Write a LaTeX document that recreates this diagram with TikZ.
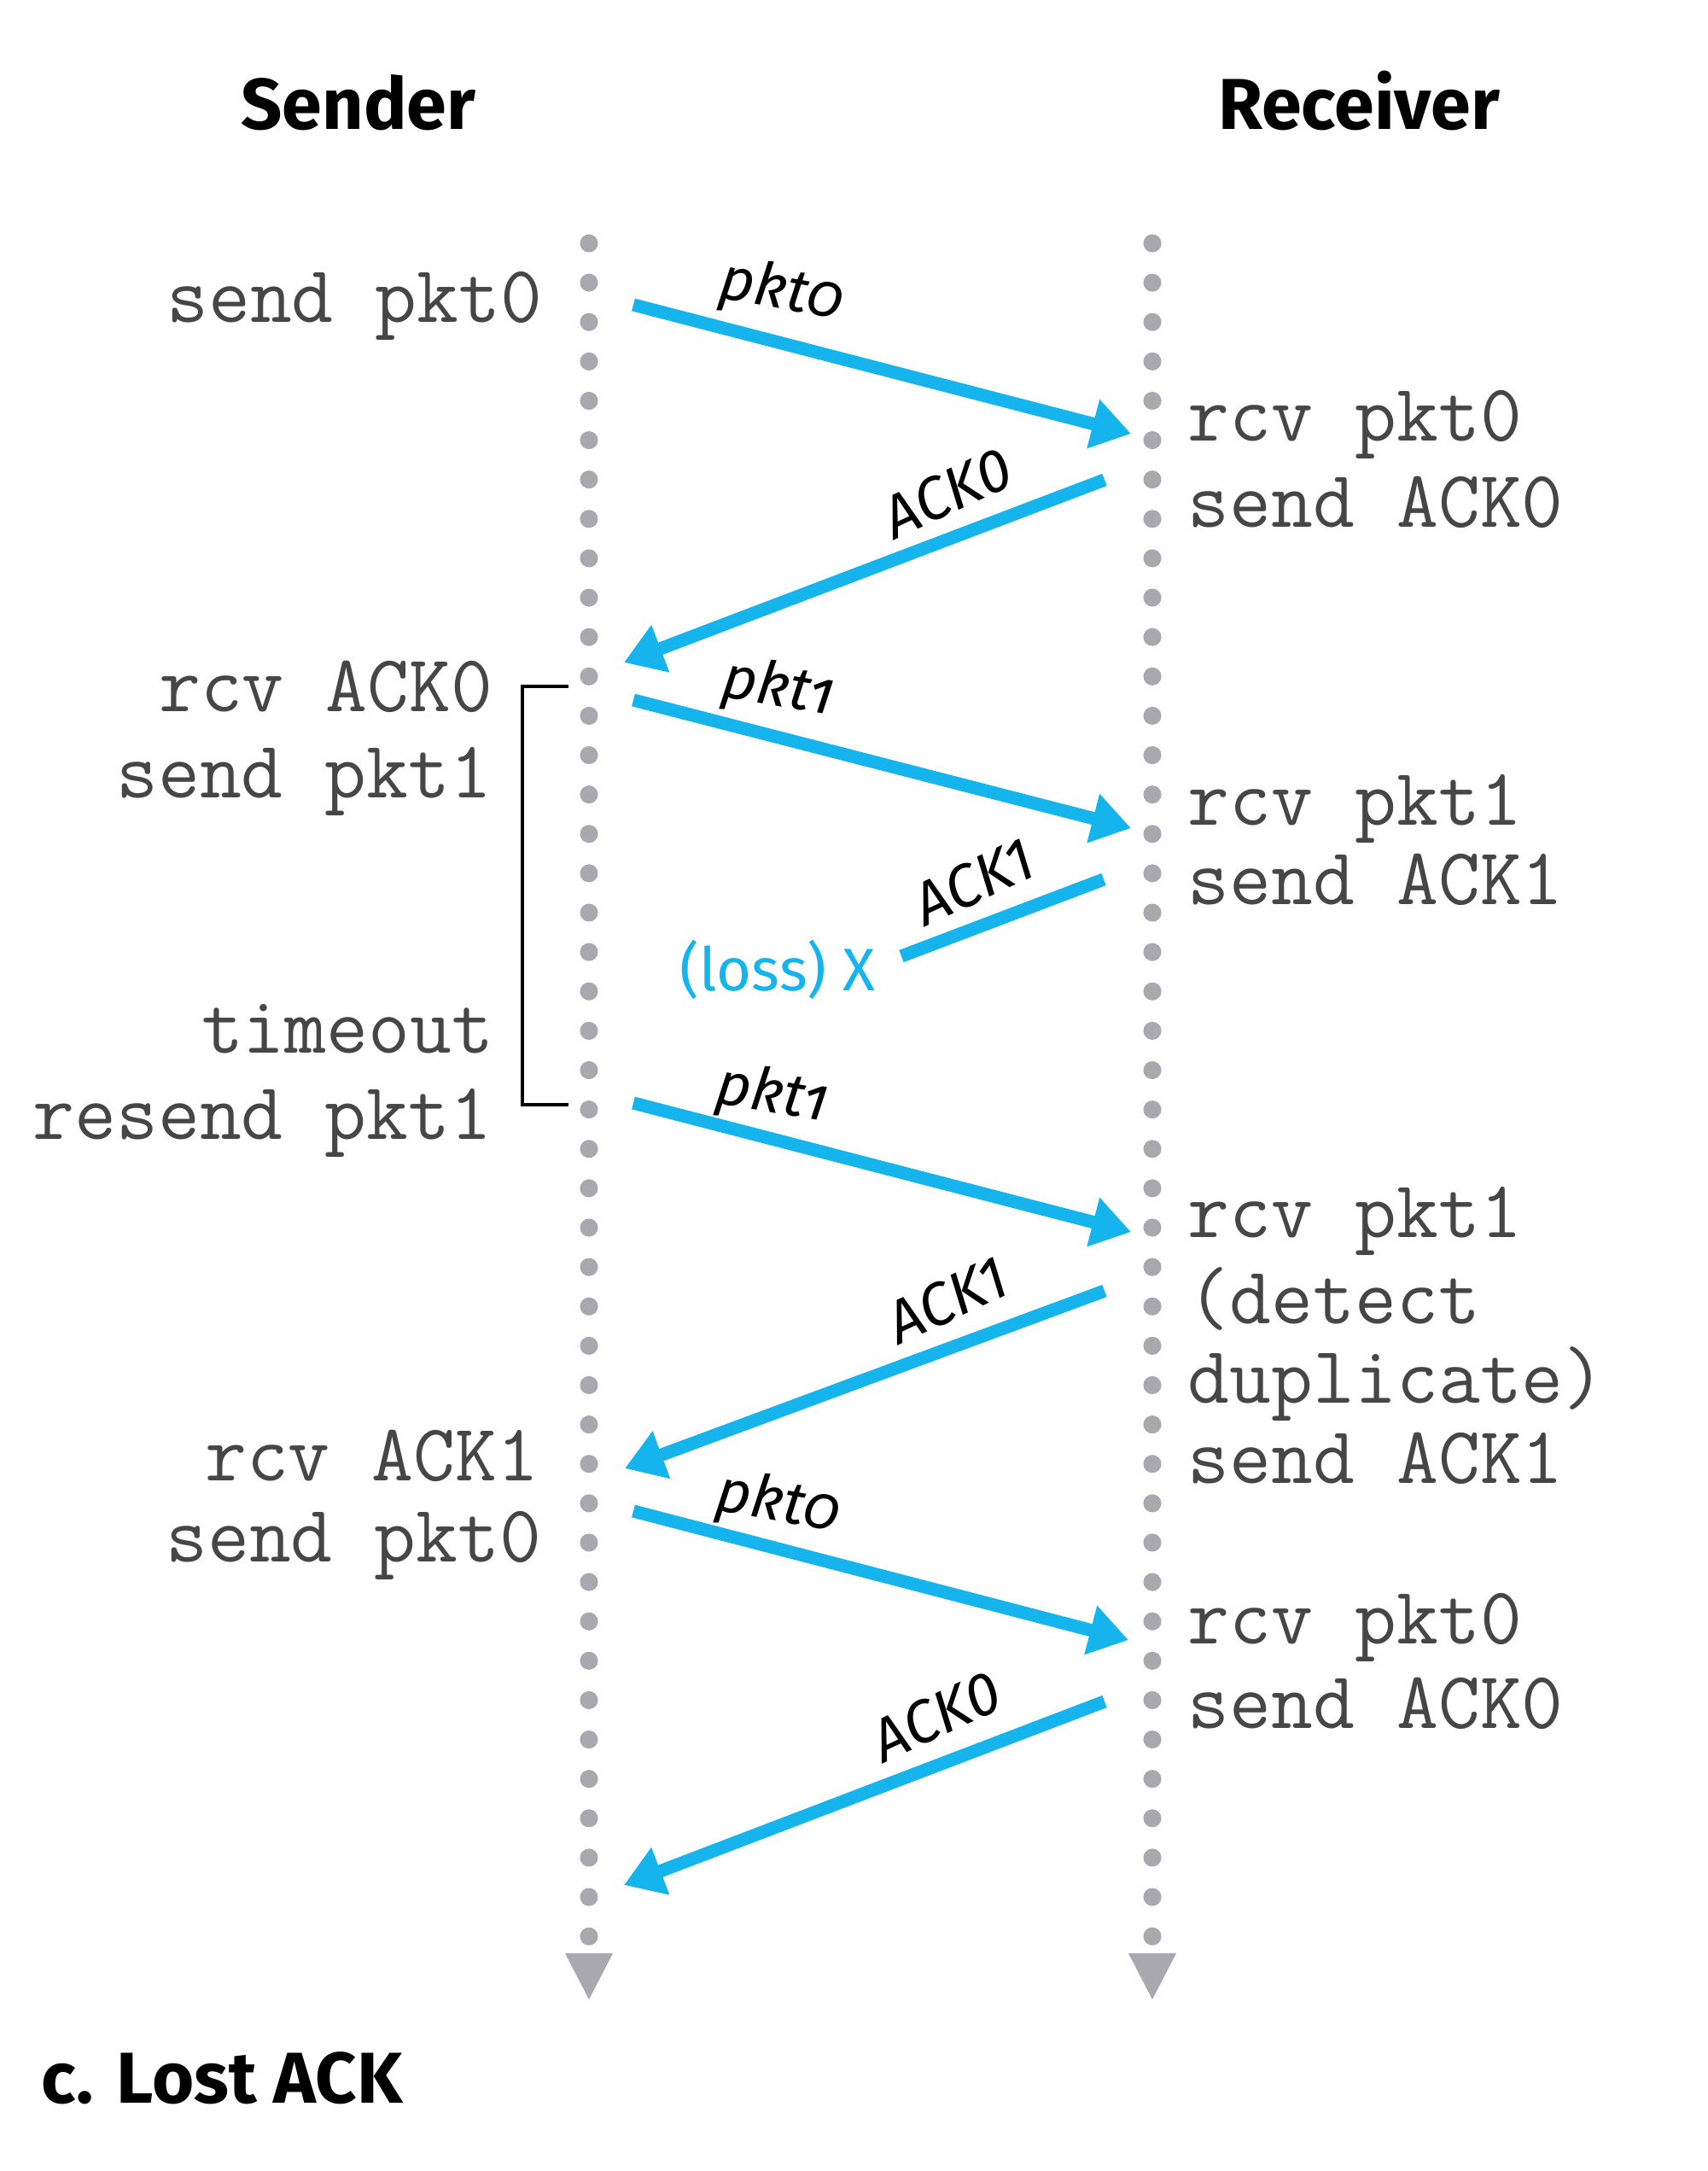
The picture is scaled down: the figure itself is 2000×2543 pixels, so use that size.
\documentclass[tikz,border=0pt]{standalone}
\usepackage{fontspec}
\setmainfont{Fira Sans}
\newfontfamily\pktfont[Numbers=OldStyle]{Fira Sans}
\usetikzlibrary{arrows.meta}
\definecolor{arrowcyan}{RGB}{22,180,236}
\definecolor{dotgray}{RGB}{168,168,174}
\definecolor{monogray}{RGB}{70,70,70}
\begin{document}
\begin{tikzpicture}[x=0.01cm,y=-0.01cm,
  mono/.style={font=\fontsize{27pt}{31pt}\selectfont\ttfamily, text=monogray, inner sep=0pt},
  lft/.style={mono, anchor=base east},
  rgt/.style={mono, anchor=base west},
  titletext/.style={font=\fontsize{24pt}{28pt}\selectfont\bfseries, inner sep=0pt, anchor=base},
  pktlbl/.style={font=\fontsize{20pt}{24pt}\selectfont\pktfont\itshape, inner sep=0pt, rotate=-10},
  acklbl/.style={font=\fontsize{20pt}{24pt}\selectfont\itshape, inner sep=0pt, rotate=25},
  msg/.style={draw=arrowcyan, line width=4.3pt, -{Triangle[length=13pt,width=16pt]}},
  lostmsg/.style={draw=arrowcyan, line width=4.3pt},
  bracketline/.style={draw=black, line width=1.1pt},
]
\useasboundingbox (0,0) rectangle (2000,2543);
\fill[white] (0,0) rectangle (2000,2543);

% titles
\node[titletext] (sender) at (420,152) {Sender};
\node[titletext] (receiver) at (1592,152) {Receiver};

% lifelines
\foreach \i in {0,...,43} {
  \fill[dotgray] (690,285+46.12*\i) circle[radius=3pt];
  \fill[dotgray] (1350,285+46.12*\i) circle[radius=3pt];
}
\fill[dotgray] (662,2288) -- (718,2288) -- (690,2342) -- cycle;
\fill[dotgray] (1322,2288) -- (1378,2288) -- (1350,2342) -- cycle;

% sender texts
\node[lft] (s1) at (636,378) {send pkt0};
\node[lft] (s2) at (578,833) {rcv ACK0};
\node[lft] (s3) at (577,934) {send pkt1};
\node[lft] (s4) at (579,1233) {timeout};
\node[lft] (s5) at (577,1334) {resend pkt1};
\node[lft] (s6) at (632,1734) {rcv ACK1};
\node[lft] (s7) at (635,1829) {send pkt0};

% receiver texts
\node[rgt] (r1) at (1391,517) {rcv pkt0};
\node[rgt] (r2) at (1391,617) {send ACK0};
\node[rgt] (r3) at (1391,966) {rcv pkt1};
\node[rgt] (r4) at (1391,1059) {send ACK1};
\node[rgt] (r5) at (1391,1449) {rcv pkt1};
\node[rgt] (r6) at (1391,1550) {(detect};
\node[rgt] (r7) at (1391,1643) {duplicate)};
\node[rgt] (r8) at (1391,1737) {send ACK1};
\node[rgt] (r9) at (1391,1925) {rcv pkt0};
\node[rgt] (r10) at (1391,2024) {send ACK0};

% bracket
\coordinate (bt) at (666,804);
\coordinate (bb) at (666,1294);
\draw[bracketline] (bt) -- (612,804) -- (612,1294) -- (bb);

% message endpoints
\coordinate (m1s) at (742,357);  \coordinate (m1e) at (1325,508);
\coordinate (m2s) at (1294,562); \coordinate (m2e) at (731,776);
\coordinate (m3s) at (742,820);  \coordinate (m3e) at (1325,970);
\coordinate (m4s) at (1293,1030); \coordinate (m4e) at (1056,1120);
\coordinate (m5s) at (742,1292); \coordinate (m5e) at (1325,1443);
\coordinate (m6s) at (1294,1512); \coordinate (m6e) at (732,1720);
\coordinate (m7s) at (742,1770); \coordinate (m7e) at (1322,1921);
\coordinate (m8s) at (1294,1993); \coordinate (m8e) at (731,2208);

\draw[msg] (m1s) -- (m1e);
\draw[msg] (m2s) -- (m2e);
\draw[msg] (m3s) -- (m3e);
\draw[lostmsg] (m4s) -- (m4e);
\draw[msg] (m5s) -- (m5e);
\draw[msg] (m6s) -- (m6e);
\draw[msg] (m7s) -- (m7e);
\draw[msg] (m8s) -- (m8e);

% message labels
\node[pktlbl] (l1) at (916,343) {pkt0};
\node[acklbl] (l2) at (1110,577) {ACK0};
\node[pktlbl] (l3) at (912,808) {pkt1};
\node[acklbl] (l4) at (1141,1033) {ACK1};
\node[pktlbl] (l5) at (905,1284) {pkt1};
\node[acklbl] (l6) at (1110,1523) {ACK1};
\node[pktlbl] (l7) at (912,1763) {pkt0};
\node[acklbl] (l8) at (1097,2010) {ACK0};

\node[font=\fontsize{20pt}{24pt}\selectfont, text=arrowcyan, inner sep=0pt, anchor=base west] (loss) at (796,1160) {(loss) X};

% caption
\node[font=\fontsize{24pt}{28pt}\selectfont\bfseries, inner sep=0pt, anchor=base west] (caption) at (48,2463) {c. Lost ACK};
\end{tikzpicture}
\end{document}
